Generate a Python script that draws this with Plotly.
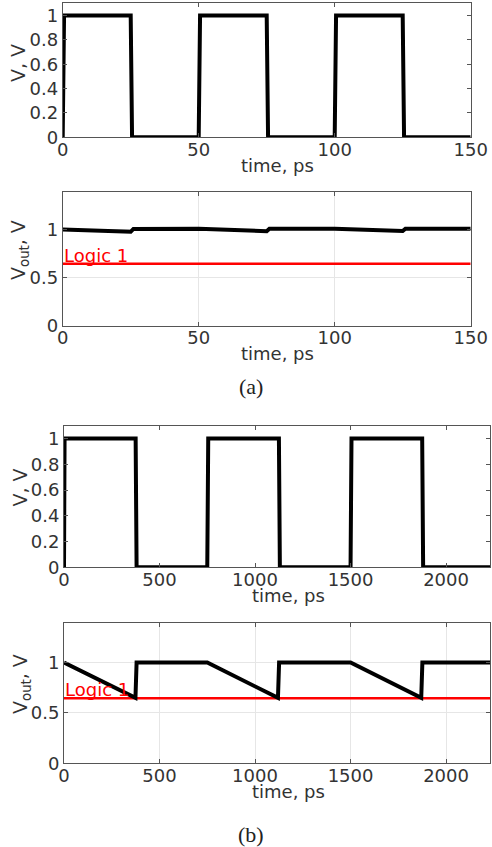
import plotly.graph_objects as go

W, H = 492, 847

# ---------------- data ----------------
# (a) short pulses
t_in_a = [0, 0.5, 25, 25.5, 50, 50.5, 75, 75.5, 100, 100.5, 125, 125.5, 150]
v_in_a = [0, 1, 1, 0, 0, 1, 1, 0, 0, 1, 1, 0, 0]
t_out_a = [0, 25, 26, 50, 75, 76, 100, 125, 126, 150]
v_out_a = [1.0, 0.976, 1.006, 1.007, 0.982, 1.008, 1.008, 0.985, 1.008, 1.008]

# (b) long pulses
t_in_b = [0, 3, 375, 380, 750, 755, 1125, 1130, 1500, 1505, 1875, 1880, 2230]
v_in_b = [0, 1, 1, 0, 0, 1, 1, 0, 0, 1, 1, 0, 0]
t_out_b = [0, 374, 380, 750, 1120, 1126, 1500, 1870, 1876, 2230]
v_out_b = [1.0, 0.65, 1.0, 1.0, 0.65, 1.0, 1.0, 0.65, 1.0, 1.0]

logic1 = 0.645

xrange_a = [0, 150]
xrange_b = [0, 2230]
yrange_in = [0, 1.1]
yrange_out = [0, 1.39]

# ---------------- layout helpers ----------------
FONT = "DejaVu Sans"
TXT = "#333333"
FRAME = "#555555"


def px_x(p):
    return p / W


def px_y(p):
    return 1 - p / H


panels = [
    # (x0, x1, ytop, ybottom) in pixels
    (62.7, 470.7, 3.3, 137.3),
    (62.7, 470.7, 192.0, 325.7),
    (64.0, 490.0, 425.7, 567.3),
    (64.0, 490.0, 623.3, 763.3),
]

fig = go.Figure()

traces = [
    (t_in_a, v_in_a, "black", 4, 1),
    (t_out_a, v_out_a, "black", 4, 2),
    (t_out_a[:1] + t_out_a[-1:], [logic1, logic1], "#ff0000", 2.5, 2),
    (t_in_b, v_in_b, "black", 4, 3),
    (t_out_b, v_out_b, "black", 4, 4),
    (t_out_b[:1] + t_out_b[-1:], [logic1, logic1], "#ff0000", 2.5, 4),
]
order = [0, 2, 1, 3, 5, 4]
for i in order:
    x, y, c, w, k = traces[i]
    s = "" if k == 1 else str(k)
    fig.add_trace(go.Scatter(x=x, y=y, mode="lines",
                             line=dict(color=c, width=w),
                             xaxis="x" + s, yaxis="y" + s,
                             showlegend=False, hoverinfo="skip", cliponaxis=False))

layout = dict(width=W, height=H,
              margin=dict(l=0, r=0, t=0, b=0, pad=0, autoexpand=False),
              paper_bgcolor="white", plot_bgcolor="white", showlegend=False,
              font=dict(family=FONT, size=18, color=TXT))

xr = [xrange_a, xrange_a, xrange_b, xrange_b]
yr = [yrange_in, yrange_out, yrange_in, yrange_out]
xd = [50, 50, 500, 500]
yd = [0.2, 0.5, 0.2, 0.5]
grid = [False, True, False, True]

annotations = []
for k, (x0, x1, yt, yb) in enumerate(panels, start=1):
    s = "" if k == 1 else str(k)
    common = dict(showline=True, linecolor=FRAME, linewidth=1, mirror="allticks",
                  ticks="inside", ticklen=4, tickcolor=FRAME, tickwidth=1,
                  zeroline=False, showgrid=grid[k - 1], gridcolor="#e6e6e6",
                  gridwidth=1, automargin=False,
                  tickfont=dict(family=FONT, size=18, color=TXT))
    layout["xaxis" + s] = dict(common, domain=[px_x(x0), px_x(x1)], range=xr[k - 1],
                               dtick=xd[k - 1], tick0=0, anchor="y" + s,
                               ticklabelstandoff=-4)
    layout["yaxis" + s] = dict(common, domain=[px_y(yb), px_y(yt)], range=yr[k - 1],
                               dtick=yd[k - 1], tick0=0, anchor="x" + s,
                               tickformat="~g", ticklabelstandoff=0)
    annotations.append(dict(text="time, ps", xref="paper", yref="paper",
                            x=px_x(x0 + (x1 - x0) / 2 + 11), y=px_y(yb + 28),
                            showarrow=False, xanchor="center", yanchor="middle",
                            font=dict(family=FONT, size=18, color=TXT)))

ytitles = [
    ("V, V", 18, 63),
    ("V<sub>out</sub>, V", 20, 250),
    ("V, V", 19.5, 488),
    ("V<sub>out</sub>, V", 21, 684),
]
for txt, xc, yc in ytitles:
    annotations.append(dict(text=txt, xref="paper", yref="paper",
                            x=px_x(xc), y=px_y(yc), textangle=-90,
                            showarrow=False, xanchor="center", yanchor="middle",
                            font=dict(family=FONT, size=19, color=TXT)))

for s in ["2", "4"]:
    annotations.append(dict(text="Logic 1", xref="x" + s, yref="y" + s,
                            x=0, y=logic1, xanchor="left", yanchor="bottom",
                            showarrow=False, borderpad=0, yshift=-3,
                            font=dict(family=FONT, size=18, color="#ff0000")))

for txt, yc in [("(a)", 386.5), ("(b)", 834)]:
    annotations.append(dict(text=txt, xref="paper", yref="paper",
                            x=px_x(251), y=px_y(yc), showarrow=False,
                            xanchor="center", yanchor="middle",
                            font=dict(family="Liberation Serif", size=22,
                                      color="#222222")))

layout["annotations"] = annotations
fig.update_layout(**layout)
fig.write_html("out.html",
               config={"displayModeBar": False, "staticPlot": True},
               post_script="document.body.style.margin='0px';"
                           "document.body.style.overflow='hidden';")
